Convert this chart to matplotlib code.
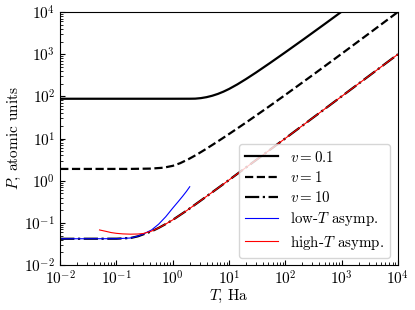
import matplotlib
matplotlib.use("Agg")
import matplotlib.pyplot as plt

plt.rcParams["font.family"] = "serif"
plt.rcParams["font.serif"] = ["cmr10", "DejaVu Serif"]
plt.rcParams["mathtext.fontset"] = "cm"
plt.rcParams["axes.formatter.use_mathtext"] = True
plt.rcParams["axes.unicode_minus"] = False

# pressure (atomic units) vs temperature (Ha)
T_v01 = [0.01, 0.1, 1.0, 2.0, 2.51, 3.16, 3.98, 5.01, 6.31, 7.94, 10.0, 14.0,
         20.0, 30.0, 54.0, 100.0, 210.0, 500.0, 1000.0, 2000.0]
P_v01 = [88.0, 88.0, 88.0, 88.1, 88.5, 91.1, 96.0, 103.6, 114.5, 129.7,
         150.3, 192.7, 258.2, 367.4, 627.4, 1116.0, 2259.0, 5221.0, 10273.0,
         20330.0]

T_v1 = [0.01, 0.175, 0.4, 0.68, 1.0, 1.35, 1.9, 2.68, 3.8, 5.28, 7.5, 10.5,
        15.0, 22.1, 50.0, 100.0, 316.0, 1000.0, 3162.0, 10000.0]
P_v1 = [1.905, 1.907, 1.939, 2.034, 2.256, 2.605, 3.245, 4.18, 5.554, 7.348,
        9.965, 13.42, 18.49, 26.33, 56.36, 109.0, 332.0, 1028.5, 3212.6,
        10090.0]

T_v10 = [0.01, 0.1, 0.178, 0.24, 0.3, 0.42, 0.56, 0.75, 1.0, 1.78, 3.16,
         5.62, 10.0, 31.6, 100.0, 1000.0, 10000.0]
P_v10 = [0.042, 0.0422, 0.0438, 0.048, 0.0535, 0.063, 0.076, 0.094, 0.118,
         0.197, 0.341, 0.595, 1.044, 3.24, 10.14, 100.44, 1001.4]

T_low = [0.01, 0.1, 0.178, 0.24, 0.3, 0.42, 0.56, 0.75, 1.0, 1.25, 1.5,
         1.75, 2.0]
P_low = [0.042, 0.0422, 0.0438, 0.0485, 0.0545, 0.068, 0.093, 0.14, 0.225,
         0.32, 0.43, 0.56, 0.72]

T_high = [0.05, 0.065, 0.08, 0.1, 0.13, 0.178, 0.24, 0.3, 0.42, 0.56, 0.75,
          1.0, 1.78, 3.16, 5.62, 10.0, 31.6, 100.0, 1000.0, 10000.0]
P_high = [0.068, 0.063, 0.059, 0.0565, 0.0548, 0.054, 0.0545, 0.056, 0.0638,
          0.076, 0.094, 0.118, 0.197, 0.341, 0.595, 1.044, 3.24, 10.14,
          100.44, 1001.4]

fig = plt.figure(figsize=(4.15, 3.10), dpi=100)
ax = fig.add_axes([0.145, 0.145, 0.814, 0.816])

ax.plot(T_v01, P_v01, color="black", ls="-", lw=1.6, label=r"$v=0.1$")
ax.plot(T_v1, P_v1, color="black", ls="--", lw=1.6, label=r"$v=1$")
ax.plot(T_v10, P_v10, color="black", ls="-.", lw=1.6, label=r"$v=10$")
ax.plot(T_low, P_low, color="blue", lw=0.8, label=r"low-$T$ asymp.")
ax.plot(T_high, P_high, color="red", lw=0.8, label=r"high-$T$ asymp.")

ax.set_xscale("log")
ax.set_yscale("log")
ax.set_xlim(1e-2, 1e4)
ax.set_ylim(1e-2, 1e4)
ax.set_xlabel(r"$T$, Ha", fontsize=11, labelpad=0)
ax.set_ylabel(r"$P$, atomic units", fontsize=11, labelpad=1)
ax.tick_params(which="both", direction="in", labelsize=11)
ax.legend(loc="lower right", fontsize=10.8, handlelength=2.2,
          labelspacing=0.35)

fig.savefig("out.png", dpi=100)
